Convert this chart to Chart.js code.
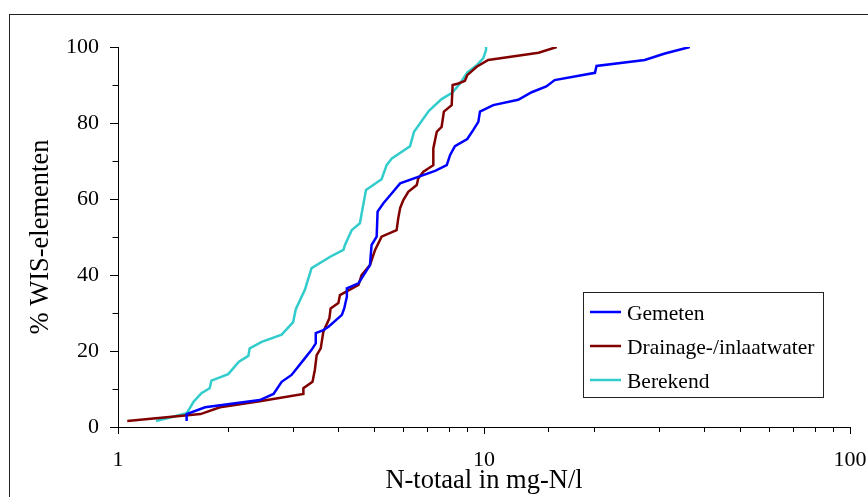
<!DOCTYPE html>
<html>
<head>
<meta charset="utf-8">
<script src="https://cdn.jsdelivr.net/npm/chart.js@4.4.1/dist/chart.umd.min.js"></script>
<style>
  html, body { margin: 0; padding: 0; background: #fff; }
  canvas { display: block; }
</style>
</head>
<body>
<canvas id="c" width="868" height="497"></canvas>
<script>
// ---- Data ----
const seriesNames = ["Gemeten", "Drainage-/inlaatwater", "Berekend"];

const gemetenX = [1.54, 1.54, 1.73, 2.44, 2.66, 2.80, 2.98, 3.21, 3.38, 3.47, 3.47, 3.64, 3.76, 4.09, 4.15, 4.22, 4.22, 4.54, 4.63, 4.88, 4.93, 5.09, 5.12, 5.31, 5.60, 5.90, 7.35, 7.91, 8.08, 8.33, 9.00, 9.35, 9.65, 9.75, 10.6, 12.4, 13.5, 14.8, 15.6, 20.1, 20.3, 27.5, 31.2, 36.5];
const gemetenY = [1.6, 3.4, 5.2, 7.1, 8.7, 11.9, 13.7, 17.6, 20.3, 22.0, 24.7, 25.5, 26.4, 29.5, 31.2, 34.3, 36.5, 37.8, 39.1, 42.6, 47.9, 50.1, 56.7, 58.9, 61.5, 64.1, 67.4, 68.9, 71.6, 73.9, 75.8, 78.2, 80.3, 83.0, 84.7, 86.1, 88.1, 89.6, 91.3, 93.2, 95.0, 96.6, 98.3, 100];

const drainageX = [1.06, 1.68, 1.90, 2.44, 3.21, 3.21, 3.40, 3.45, 3.49, 3.58, 3.64, 3.78, 3.81, 4.00, 4.04, 4.54, 4.63, 4.88, 5.04, 5.25, 5.77, 5.83, 5.90, 6.02, 6.21, 6.55, 6.61, 6.83, 7.27, 7.27, 7.43, 7.66, 7.77, 8.16, 8.21, 8.51, 8.87, 9.00, 9.55, 10.27, 14.1, 15.8];
const drainageY = [1.6, 3.4, 5.2, 6.8, 8.7, 10.2, 11.9, 15.0, 18.9, 20.7, 25.1, 28.6, 31.2, 32.6, 34.7, 37.4, 40.0, 42.6, 46.6, 50.1, 51.8, 54.9, 57.6, 59.7, 61.9, 63.7, 65.4, 67.2, 68.9, 73.3, 77.7, 79.0, 83.0, 84.7, 90.0, 90.4, 91.1, 92.6, 94.8, 96.6, 98.5, 100];

const berekendX = [1.27, 1.54, 1.61, 1.69, 1.78, 1.80, 2.00, 2.14, 2.27, 2.29, 2.47, 2.80, 3.01, 3.06, 3.24, 3.38, 3.80, 4.13, 4.17, 4.35, 4.58, 4.76, 5.25, 5.42, 5.60, 6.28, 6.44, 7.07, 7.66, 8.20, 8.60, 9.01, 9.57, 9.95, 10.13, 10.13];
const berekendY = [1.6, 3.6, 6.7, 8.9, 10.2, 12.2, 13.9, 17.2, 18.7, 20.7, 22.4, 24.3, 27.6, 31.0, 36.1, 41.8, 44.8, 46.6, 47.9, 51.8, 53.6, 62.4, 65.2, 68.9, 70.7, 73.9, 77.7, 83.2, 86.3, 88.0, 90.4, 93.3, 95.3, 97.0, 99.2, 100];

const xTickLabels = [1, 10, 100];
const yTickLabels = [0, 20, 40, 60, 80, 100];

const xTitle = "N-totaal in mg-N/l";
const yTitle = "% WIS-elementen";

const colors = ["#0000FF", "#800000", "#33CCCC"];

// ---- Build ----
function pts(xs, ys) { return xs.map((x, i) => ({ x: x, y: ys[i] })); }
const seriesX = [gemetenX, drainageX, berekendX];
const seriesY = [gemetenY, drainageY, berekendY];

const FONT = "'Liberation Serif', 'Times New Roman', serif";

const datasets = seriesNames.map((name, i) => ({
  label: name,
  data: pts(seriesX[i], seriesY[i]),
  borderColor: colors[i],
  backgroundColor: colors[i],
  borderWidth: 2.5,
  pointRadius: 0,
  tension: 0,
  fill: false
}));

const framePlugin = {
  id: 'frame',
  beforeDraw(chart) {
    const ctx = chart.ctx;
    ctx.save();
    ctx.fillStyle = '#fff';
    ctx.fillRect(0, 0, chart.width, chart.height);
    ctx.strokeStyle = '#222';
    ctx.lineWidth = 1;
    ctx.strokeRect(9.5, 14.5, 1000, 1000);
    ctx.restore();
  }
};

const tickPlugin = {
  id: 'tickMarks',
  afterDraw(chart) {
    const ctx = chart.ctx;
    const xs = chart.scales.x, ys = chart.scales.y;
    const a = chart.chartArea;
    ctx.save();
    ctx.strokeStyle = '#000';
    ctx.lineWidth = 1;
    ctx.beginPath();
    xs.ticks.forEach(t => {
      const px = Math.round(xs.getPixelForValue(t.value)) + 0.5;
      const major = xTickLabels.includes(t.value);
      ctx.moveTo(px, a.bottom);
      ctx.lineTo(px, a.bottom + (major ? 7 : 5));
    });
    ys.ticks.forEach(t => {
      const py = Math.round(ys.getPixelForValue(t.value)) + 0.5;
      const major = yTickLabels.includes(t.value);
      ctx.moveTo(a.left - (major ? 8 : 5.5), py);
      ctx.lineTo(a.left, py);
    });
    ctx.stroke();
    ctx.restore();
  }
};

const legendPlugin = {
  id: 'boxLegend',
  afterDraw(chart) {
    const ctx = chart.ctx;
    ctx.save();
    ctx.strokeStyle = '#222';
    ctx.lineWidth = 1;
    ctx.fillStyle = '#fff';
    ctx.fillRect(583.5, 292.5, 240, 105);
    ctx.strokeRect(583.5, 292.5, 240, 105);
    ctx.font = "21.5px " + FONT;
    ctx.textBaseline = 'alphabetic';
    ctx.textAlign = 'left';
    chart.data.datasets.forEach((ds, i) => {
      const ly = 312 + i * 34;
      ctx.strokeStyle = ds.borderColor;
      ctx.lineWidth = 2.5;
      ctx.beginPath();
      ctx.moveTo(590, ly);
      ctx.lineTo(621, ly);
      ctx.stroke();
      ctx.fillStyle = '#000';
      ctx.fillText(ds.label, 627, ly + 7.5);
    });
    ctx.restore();
  }
};

new Chart(document.getElementById('c'), {
  type: 'line',
  data: { datasets: datasets },
  options: {
    responsive: false,
    animation: false,
    devicePixelRatio: 1,
    layout: { padding: { top: 47, right: 18, left: 0, bottom: 0 } },
    plugins: { legend: { display: false }, tooltip: { enabled: false } },
    scales: {
      x: {
        type: 'logarithmic',
        min: 1,
        max: 100,
        afterFit(s) { s.height = 70; s.paddingLeft = 0; s.paddingRight = 0; },
        grid: { display: true, drawOnChartArea: false, drawTicks: false },
        border: { display: true, color: '#000', width: 1 },
        ticks: {
          autoSkip: false,
          maxRotation: 0,
          padding: 20,
          color: '#000',
          font: { family: FONT, size: 22 },
          callback: (v) => xTickLabels.includes(v) ? String(v) : ''
        },
        title: {
          display: true,
          text: xTitle,
          color: '#000',
          font: { family: FONT, size: 26.5, lineHeight: 1 },
          padding: { top: 0, bottom: 3 }
        }
      },
      y: {
        type: 'linear',
        min: 0,
        max: 100,
        afterFit(s) { s.width = 118; s.paddingTop = 0; s.paddingBottom = 0; },
        grid: { display: true, drawOnChartArea: false, drawTicks: false },
        border: { display: true, color: '#000', width: 1 },
        ticks: {
          stepSize: 10,
          padding: 19,
          color: '#000',
          font: { family: FONT, size: 22 },
          callback: (v) => yTickLabels.includes(v) ? String(v) : ''
        },
        title: {
          display: true,
          text: yTitle,
          color: '#000',
          font: { family: FONT, size: 26.5, lineHeight: 1 },
          padding: { top: 28, bottom: 0 }
        }
      }
    }
  },
  plugins: [framePlugin, tickPlugin, legendPlugin]
});
</script>
</body>
</html>
